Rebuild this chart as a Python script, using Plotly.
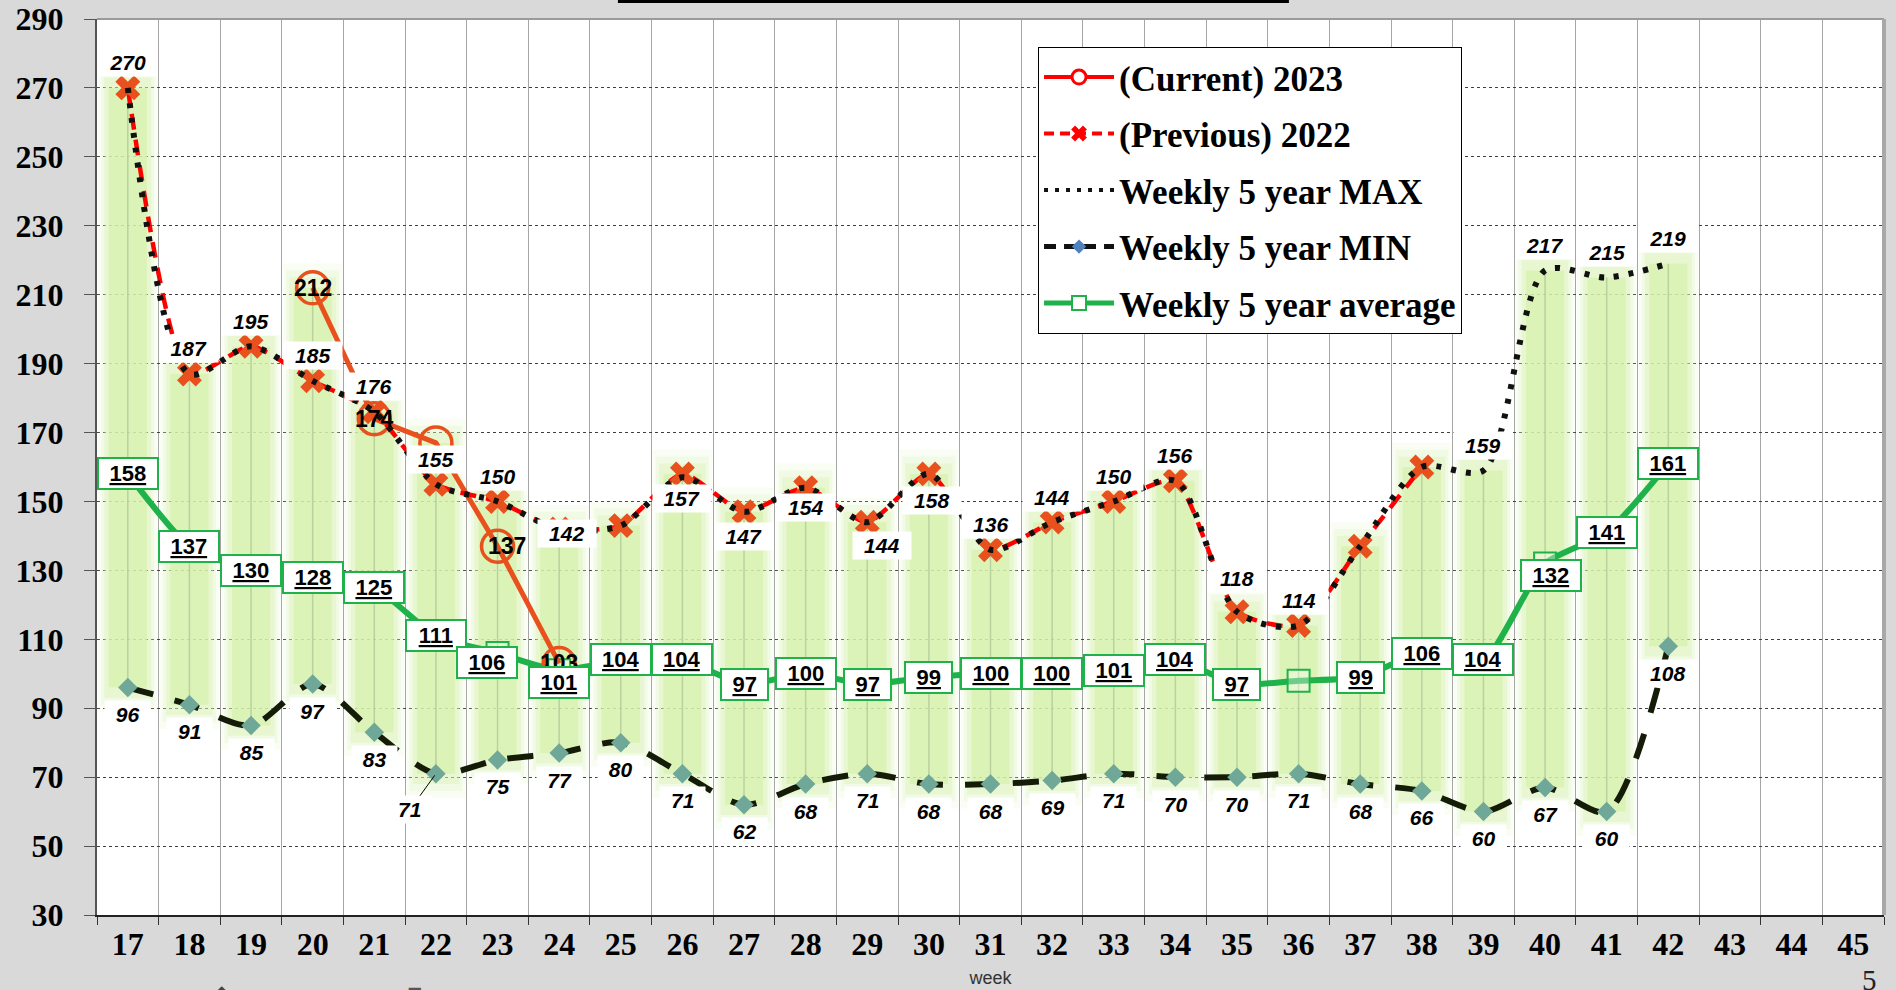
import plotly.graph_objects as go

# ---------------- data ----------------
weeks_axis = [str(w) for w in range(17, 46)]          # x categories 17..45
weeks = [str(w) for w in range(17, 43)]                # weeks with data 17..42

current_2023 = [None, None, None, 212, 174, 167, 137, 103] + [None] * 18
previous_2022 = [270, 187, 195, 185, 176, 155, 150, 142, 143, 158, 147, 154, 144,
                 158, 136, 144, 150, 156, 118, 114, 137, 160] + [None] * 4
max_5yr = [270, 187, 195, 185, 176, 155, 150, 142, 143, 157, 147, 154, 144,
           158, 136, 144, 150, 156, 118, 114, 137, 160, 159, 217, 215, 219]
min_5yr = [96, 91, 85, 97, 83, 71, 75, 77, 80, 71, 62, 68, 71,
           68, 68, 69, 71, 70, 70, 71, 68, 66, 60, 67, 60, 108]
avg_5yr = [158, 137, 130, 128, 125, 111, 106, 101, 104, 104, 97, 100, 97,
           99, 100, 100, 101, 104, 97, 98, 99, 106, 104, 132, 141, 161]

# data labels shown on the chart (None = no label)
current_labels = [None, None, None, 212, 174, None, 137, 103] + [None] * 18
max_labels = [270, 187, 195, 185, 176, 155, 150, 142, None, 157, 147, 154, 144,
              158, 136, 144, 150, 156, 118, 114, None, None, 159, 217, 215, 219]
min_labels = list(min_5yr)
avg_labels = [158, 137, 130, 128, 125, 111, 106, 101, 104, 104, 97, 100, 97,
              99, 100, 100, 101, 104, 97, None, 99, 106, 104, 132, 141, 161]

# ---------------- styles ----------------
SERIF = "Liberation Serif"
SANS = "Liberation Sans"
RED = "#ff0000"
ORANGE = "#e8501e"
GREEN = "#1fb24a"
MAX_SHIFT = {"24": (8, -4), "26": (0, -21), "27": (0, -25), "28": (0, -20),
             "29": (15, -23), "30": (3, -27), "35": (0, 33)}
AVG_SHIFT = {"23": (-11, -9), "24": (0, -12), "40": (6, -12)}
CUR_SHIFT = {"23": (9, 0)}

fig = go.Figure()

# band (high-low) from lowest to highest value of each week
lows, highs = [], []
for i in range(len(weeks)):
    vals = [s[i] for s in (current_2023, previous_2022, max_5yr, min_5yr, avg_5yr) if s[i] is not None]
    lows.append(min(vals))
    highs.append(max(vals))

for width, pad, col in [(0.96, 7, "rgba(215,240,175,0.14)"),
                        (0.86, 5, "rgba(215,240,175,0.22)"),
                        (0.76, 3, "rgba(215,240,175,0.35)"),
                        (0.62, 0, "rgba(215,241,172,0.7)")]:
    fig.add_trace(go.Bar(x=weeks, y=[h - l + 2 * pad for l, h in zip(lows, highs)],
                         base=[l - pad for l in lows], width=width,
                         marker=dict(color=col, line=dict(width=0)),
                         showlegend=False, hoverinfo="skip"))

cx, cy = [], []
for w, l, h in zip(weeks, lows, highs):
    cx += [w, w, None]
    cy += [l, h, None]
fig.add_trace(go.Scatter(x=cx, y=cy, mode="lines", line=dict(color="rgba(170,195,150,0.7)", width=1.5),
                         showlegend=False, hoverinfo="skip"))

# average
fig.add_trace(go.Scatter(x=weeks, y=avg_5yr, mode="lines+markers", showlegend=False,
                         line=dict(color=GREEN, width=6, shape="spline", smoothing=0.6),
                         marker=dict(symbol="square", size=22, color="rgba(255,255,255,0.35)",
                                     line=dict(color=GREEN, width=2))))
# min
fig.add_trace(go.Scatter(x=weeks, y=min_5yr, mode="lines+markers", showlegend=False,
                         line=dict(color="#141c08", width=6, dash="26px,22px", shape="spline", smoothing=0.8),
                         marker=dict(symbol="diamond", size=15, color="#6fa898")))
# current
fig.add_trace(go.Scatter(x=weeks, y=current_2023, mode="lines+markers", showlegend=False,
                         line=dict(color=ORANGE, width=5),
                         marker=dict(symbol="circle-open", size=32, color=ORANGE, line=dict(width=3.5))))
# previous
fig.add_trace(go.Scatter(x=weeks, y=previous_2022, mode="lines+markers", showlegend=False,
                         line=dict(color=RED, width=4.5, dash="16px,10px", shape="spline", smoothing=0.6),
                         marker=dict(symbol="x", size=22, color=ORANGE, line=dict(width=0))))
# max
fig.add_trace(go.Scatter(x=weeks, y=max_5yr, mode="lines", showlegend=False,
                         line=dict(color="#111111", width=6, dash="5px,10px", shape="spline", smoothing=0.8)))

# legend entries
leg = [
    ("(Current) 2023", dict(color=RED, width=4), dict(symbol="circle", size=14, color="white", line=dict(color=RED, width=3))),
    ("(Previous) 2022", dict(color=RED, width=4, dash="10px,6px"), dict(symbol="x", size=14, color=RED)),
    ("Weekly 5 year MAX", dict(color="#111111", width=4, dash="4px,7px"), None),
    ("Weekly 5 year MIN", dict(color="#111111", width=5, dash="12px,8px"), dict(symbol="diamond", size=11, color="#4f81bd")),
    ("Weekly 5 year average", dict(color=GREEN, width=5), dict(symbol="square", size=14, color="white", line=dict(color=GREEN, width=2))),
]
for i, (name, ln, mk) in enumerate(leg):
    fig.add_trace(go.Scatter(x=[None], y=[None], name=name, legendgroup=f"g{i}",
                             mode="lines+markers" if mk else "lines", line=ln,
                             marker=mk if mk else None))

ann = []
def lw(v, k=12.2, extra=17):
    return k * len(str(v)) + extra

def xi(w):
    return weeks_axis.index(w)

# current labels
for w, v, y in zip(weeks, current_labels, current_2023):
    if v is None:
        continue
    dx, dy = CUR_SHIFT.get(w, (0, 0))
    ann.append(dict(x=xi(w), y=y, text=f"<b>{v}</b>", showarrow=False, xshift=dx, yshift=dy,
                    font=dict(family=SANS, size=23, color="black")))
# min labels
for w, v, y in zip(weeks, min_labels, min_5yr):
    if v is None:
        continue
    if w == "22":
        ann.append(dict(x=xi(w), y=y, text=f"<b><i>{v}</i></b>", showarrow=True, ax=-26, ay=36,
                        arrowhead=0, arrowwidth=1, arrowcolor="black", standoff=2,
                        bgcolor="white", width=lw(v), borderpad=2,
                        font=dict(family=SANS, size=21, color="black")))
        continue
    ann.append(dict(x=xi(w), y=y, text=f"<b><i>{v}</i></b>", showarrow=False, yshift=-27,
                    bgcolor="white", width=lw(v), borderpad=2,
                    font=dict(family=SANS, size=21, color="black")))
# max labels
for w, v, y in zip(weeks, max_labels, max_5yr):
    if v is None:
        continue
    dx, dy = MAX_SHIFT.get(w, (0, 25))
    ann.append(dict(x=xi(w), y=y, text=f"<b><i>{v}</i></b>", showarrow=False, xshift=dx, yshift=dy,
                    bgcolor="white", width=lw(v), borderpad=2,
                    font=dict(family=SANS, size=21, color="black")))
# average labels
for w, v, y in zip(weeks, avg_labels, avg_5yr):
    if v is None:
        continue
    dx, dy = AVG_SHIFT.get(w, (0, 0))
    ann.append(dict(x=xi(w), y=y, text=f"<b><u>{v}</u></b>", showarrow=False, xshift=dx, yshift=dy,
                    bgcolor="white", bordercolor=GREEN, borderwidth=2, width=lw(v), borderpad=2,
                    font=dict(family=SANS, size=22, color="black")))

# page decorations
ann.append(dict(xref="paper", yref="paper", x=0.992, y=-0.073, xanchor="center", yanchor="middle",
                text="5", showarrow=False, font=dict(family=SERIF, size=29, color="#222")))
ann.append(dict(xref="paper", yref="paper", x=0.07, y=-0.086, xanchor="center", yanchor="middle",
                text="◆", showarrow=False, font=dict(family="DejaVu Sans", size=20, color="#444")))
ann.append(dict(xref="paper", yref="paper", x=0.1774, y=-0.086, xanchor="center", yanchor="middle",
                text="■", showarrow=False, font=dict(family="DejaVu Sans", size=16, color="#555")))

shapes = [
    dict(type="rect", xref="paper", yref="paper", x0=0.2915, x1=0.667, y0=1.0179, y1=1.04,
         fillcolor="black", line=dict(width=0)),
    dict(type="line", xref="paper", yref="paper", x0=0, x1=1, y0=1, y1=1,
         line=dict(color="#9a9a9a", width=2)),
    dict(type="line", xref="paper", yref="paper", x0=1, x1=1, y0=0, y1=1,
         line=dict(color="#a8a8a8", width=4)),
]

fig.update_layout(
    width=1896, height=990,
    paper_bgcolor="#d9d9d9", plot_bgcolor="white",
    margin=dict(l=97, r=12, t=19, b=75, autoexpand=False),
    barmode="overlay",
    annotations=ann, shapes=shapes,
    showlegend=True,
    legend=dict(x=0.5266, y=0.969, xanchor="left", yanchor="top",
                bgcolor="white", bordercolor="black", borderwidth=1,
                font=dict(family=SERIF, size=35, color="black", weight="bold"),
                traceorder="grouped", tracegroupgap=8, itemwidth=70),
    xaxis=dict(type="category", categoryorder="array", categoryarray=weeks_axis,
               range=[-0.5, len(weeks_axis) - 0.5], tickson="boundaries", automargin=False,
               ticks="outside", ticklen=8, tickcolor="#333", tickwidth=1,
               showgrid=True, gridcolor="#a6a6a6", gridwidth=1,
               showline=True, linecolor="#222", linewidth=2,
               tickfont=dict(family=SERIF, size=32, color="black", weight="bold"),
               title=dict(text="week", standoff=10, font=dict(family=SANS, size=18, color="#333"))),
    yaxis=dict(range=[30, 290], tick0=30, dtick=20, showgrid=True, automargin=False,
               gridcolor="#404040", griddash="dot", gridwidth=1, zeroline=False,
               showline=True, linecolor="#555", linewidth=2,
               ticks="outside", ticklen=11, tickcolor="#555",
               ticklabelstandoff=14,
               tickfont=dict(family=SERIF, size=32, color="black", weight="bold")),
)

fig.write_html("out.html", config={"displayModeBar": False},
               post_script="document.body.style.margin='0';document.body.style.overflow='hidden';")
